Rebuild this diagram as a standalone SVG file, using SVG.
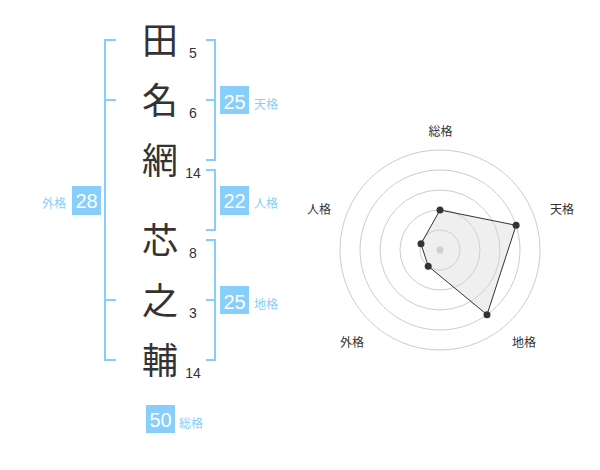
<svg xmlns="http://www.w3.org/2000/svg" width="600" height="470" viewBox="0 0 600 470">
<style>
.k{font-family:"Noto Sans CJK JP","Noto Sans CJK SC",sans-serif;font-size:36px;fill:#333;text-anchor:middle}
.n{font-family:"Liberation Sans",Arial,sans-serif;font-size:14px;fill:#333;text-anchor:middle}
.br{fill:none;stroke:#87cefa;stroke-width:2}
.box{fill:#87cefa}
.bn{font-family:"Liberation Sans",Arial,sans-serif;font-size:20px;fill:#fff;text-anchor:middle}
.bl{font-family:"Noto Sans CJK JP",sans-serif;font-size:12px;fill:#87cefa}
.rl{font-family:"Noto Sans CJK JP",sans-serif;font-size:12px;fill:#333;text-anchor:middle}
.ring{fill:none;stroke:#cccccc;stroke-width:1}
</style>
<rect width="600" height="470" fill="#fff"/>
<g id="chars">
<text class="k" x="160" y="54">田</text>
<text class="k" x="160" y="114">名</text>
<text class="k" x="160" y="174">網</text>
<text class="k" x="160" y="254">芯</text>
<text class="k" x="160" y="314">之</text>
<text class="k" x="160" y="374">輔</text>
<text class="n" x="193" y="58">5</text>
<text class="n" x="193" y="118">6</text>
<text class="n" x="193" y="178">14</text>
<text class="n" x="193" y="258">8</text>
<text class="n" x="193" y="318">3</text>
<text class="n" x="193" y="378">14</text>
</g>
<g id="connectors">
<path class="br" d="M116,40 H105 V360 H116 M105,100 H116 M105,300 H116"/>
<path class="br" d="M206,40 H215 V160 H206 M206,100 H215"/>
<path class="br" d="M206,170 H215 V230 H206"/>
<path class="br" d="M206,240 H215 V360 H206 M206,300 H215"/>
</g>
<g id="tenkaku">
<rect class="box" x="220" y="86" width="29" height="28"/>
<text class="bn" x="234.5" y="109">25</text>
<text class="bl" x="254" y="109">天格</text>
</g>
<g id="jinkaku">
<rect class="box" x="220" y="186" width="29" height="29"/>
<text class="bn" x="234.5" y="208">22</text>
<text class="bl" x="254" y="208">人格</text>
</g>
<g id="chikaku">
<rect class="box" x="220" y="286" width="29" height="28"/>
<text class="bn" x="234.5" y="309">25</text>
<text class="bl" x="254" y="309">地格</text>
</g>
<g id="gaikaku">
<rect class="box" x="72" y="186" width="29" height="29"/>
<text class="bn" x="86.5" y="208">28</text>
<text class="bl" x="42" y="208">外格</text>
</g>
<g id="soukaku">
<rect class="box" x="146" y="405" width="29" height="28"/>
<text class="bn" x="160.5" y="427">50</text>
<text class="bl" x="179" y="428">総格</text>
</g>
<g id="radar">
<circle class="ring" cx="440" cy="250" r="100"/>
<circle class="ring" cx="440" cy="250" r="80"/>
<circle class="ring" cx="440" cy="250" r="60"/>
<circle class="ring" cx="440" cy="250" r="40"/>
<circle class="ring" cx="440" cy="250" r="20"/>
<circle cx="440" cy="250" r="3.5" fill="#cccccc"/>
<polygon points="440,210 516.1,225.3 487,314.7 428.2,266.2 421,243.8" fill="#d8d8d8" fill-opacity="0.4" stroke="#333" stroke-width="1"/>
<g fill="#333">
<circle cx="440" cy="210" r="3.5"/>
<circle cx="516.1" cy="225.3" r="3.5"/>
<circle cx="487" cy="314.7" r="3.5"/>
<circle cx="428.2" cy="266.2" r="3.5"/>
<circle cx="421" cy="243.8" r="3.5"/>
</g>
<text class="rl" x="440.5" y="136">総格</text>
<text class="rl" x="562" y="214">天格</text>
<text class="rl" x="524" y="347">地格</text>
<text class="rl" x="352" y="347">外格</text>
<text class="rl" x="319" y="214">人格</text>
</g>
</svg>
